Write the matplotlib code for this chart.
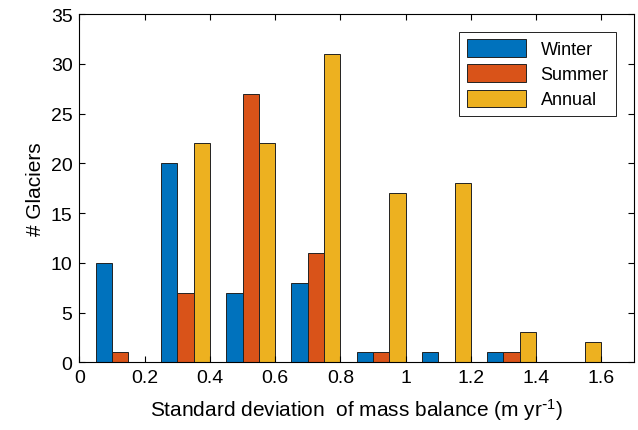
import numpy as np
import matplotlib
matplotlib.use('Agg')
import matplotlib.pyplot as plt

plt.rcParams['font.family'] = ['Liberation Sans', 'DejaVu Sans']
plt.rcParams['mathtext.default'] = 'regular'

# Bin centres (std. dev. of mass balance, m/yr) and glacier counts
bin_centers = [0.1, 0.3, 0.5, 0.7, 0.9, 1.1, 1.3, 1.5]
winter = [10, 20, 7, 8, 1, 1, 1, 0]
summer = [1, 7, 27, 11, 1, 0, 1, 0]
annual = [0, 22, 22, 31, 17, 18, 3, 2]

labels = ['Winter', 'Summer', 'Annual']
colors = ['#0072BD', '#D95319', '#EDB120']

fig = plt.figure(figsize=(6.38, 4.31), dpi=100)
ax = fig.add_axes([0.1246, 0.157, 0.869, 0.808])

x = np.array(bin_centers)
width = 0.05
for i, (vals, lab, c) in enumerate(zip([winter, summer, annual], labels, colors)):
    ax.bar(x + (i - 0.5) * width, vals, width, color=c, edgecolor='#222222',
           linewidth=0.7, label=lab)

ax.set_xlim(0, 1.7)
ax.set_ylim(0, 35)
ax.set_xticks(np.arange(0, 1.61, 0.2))
ax.set_xticklabels(['0', '0.2', '0.4', '0.6', '0.8', '1', '1.2', '1.4', '1.6'])
ax.set_yticks(np.arange(0, 36, 5))
ax.tick_params(direction='in', top=True, right=True, labelsize=14, length=4,
               width=0.8, pad=5)
for s in ax.spines.values():
    s.set_linewidth(0.8)

ax.set_ylabel('# Glaciers', fontsize=15)
ax.set_xlabel(r'Standard deviation  of mass balance (m yr$^{\text{-}1}$)',
              fontsize=15, labelpad=7)

leg = ax.legend(loc='upper right', fontsize=13, fancybox=False, framealpha=1,
                edgecolor='#222222', handlelength=3.3, handleheight=1.1,
                borderaxespad=1.0, labelspacing=0.35)
leg.get_frame().set_linewidth(0.7)

fig.savefig('out.png', dpi=100)
